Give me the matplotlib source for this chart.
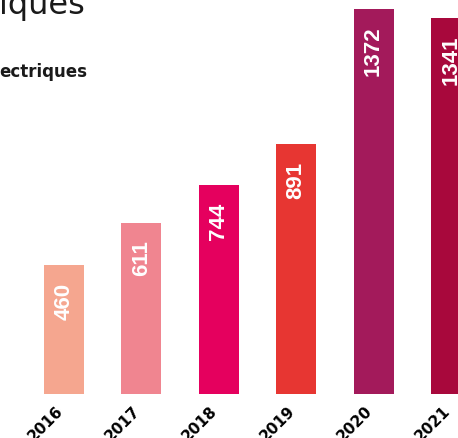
import matplotlib.pyplot as plt
import matplotlib.transforms as mtransforms

# données
annees = ["2016", "2017", "2018", "2019", "2020", "2021"]
valeurs = [460, 611, 744, 891, 1372, 1341]
couleurs = ["#F5A68F", "#F08590", "#E5005E", "#E73632", "#A31A5B", "#A8083C"]

fig = plt.figure(figsize=(4.58, 4.39), dpi=100)

# axes plus larges que la figure : l'image d'origine est recadrée à droite
ax = fig.add_axes([0.0, 44 / 439, 489.7 / 458, 392.9 / 439])
x = list(range(len(annees)))
ax.bar(x, valeurs, width=0.517, color=couleurs)
ax.set_xlim(-0.8267, 5.5)
ax.set_ylim(0, 1400)

for xi, v in zip(x, valeurs):
    ax.annotate(str(v), (xi, v), xytext=(0, -12), textcoords="offset points",
                rotation=90, ha="center", va="top", color="white",
                fontsize=16, fontweight="bold", family="Liberation Sans")

ax.set_xticks(x)
ax.set_xticklabels(annees, rotation=45, ha="right", rotation_mode="anchor",
                   fontsize=11, fontweight="bold")
ax.tick_params(axis="x", length=0, pad=6)
decalage = mtransforms.ScaledTranslation(-9 / 100, 0, fig.dpi_scale_trans)
for lab in ax.get_xticklabels():
    lab.set_transform(lab.get_transform() + decalage)
ax.set_yticks([])
for s in ax.spines.values():
    s.set_visible(False)

# titres (visibles seulement en partie)
fig.text(-0.002, 1 - 14 / 439, "iques", fontsize=23, color="#1a1a1a",
         ha="left", va="baseline")
fig.text(-0.002, 1 - 77 / 439, "ectriques", fontsize=12, fontweight="bold",
         color="#1a1a1a", ha="left", va="baseline")

fig.savefig("out.png", dpi=100)
